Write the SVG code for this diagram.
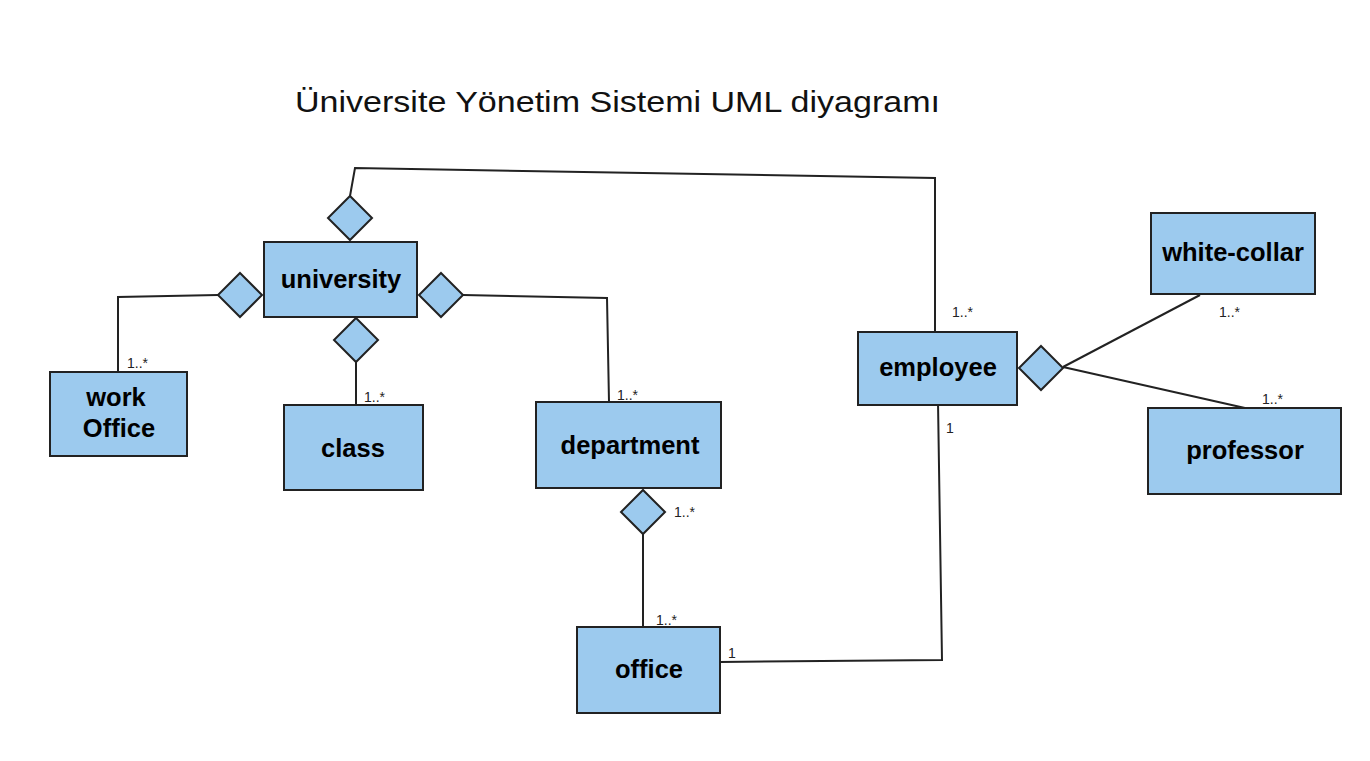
<svg xmlns="http://www.w3.org/2000/svg" width="1370" height="761" viewBox="0 0 1370 761">
<style>
.box{fill:#9ccaee;stroke:#222;stroke-width:2}
.dia{fill:#9ccaee;stroke:#222;stroke-width:2}
.lbl{font-family:"Liberation Sans",Arial,sans-serif;font-weight:bold;font-size:25.5px;fill:#000;text-anchor:middle}
.mult{font-family:"Liberation Sans",Arial,sans-serif;font-size:14px;fill:#222}
.conn{fill:none;stroke:#222;stroke-width:2}
.title{font-family:"Liberation Sans",Arial,sans-serif;font-size:30px;fill:#111}
</style>
<rect width="1370" height="761" fill="#fff"/>
<text class="title" x="295" y="112" textLength="645" lengthAdjust="spacingAndGlyphs">Üniversite Yönetim Sistemi UML diyagramı</text>
<g id="connectors">
<polyline class="conn" points="350,196 355,168 935,178 935,332"/>
<polyline class="conn" points="218,295 118,297 118,372"/>
<polyline class="conn" points="463,295 607,298 609,402"/>
<line class="conn" x1="356" y1="362" x2="356" y2="405"/>
<line class="conn" x1="643" y1="534" x2="643" y2="627"/>
<polyline class="conn" points="720,662 942,660 938,402"/>
<line class="conn" x1="1063" y1="367" x2="1200" y2="295"/>
<line class="conn" x1="1063" y1="367" x2="1245" y2="408"/>
</g>
<g id="multiplicities">
<text class="mult" x="127" y="368">1..*</text>
<text class="mult" x="364" y="402">1..*</text>
<text class="mult" x="617" y="400">1..*</text>
<text class="mult" x="674" y="517">1..*</text>
<text class="mult" x="656" y="625">1..*</text>
<text class="mult" x="952" y="317">1..*</text>
<text class="mult" x="1219" y="317">1..*</text>
<text class="mult" x="1262" y="404">1..*</text>
<text class="mult" x="946" y="433">1</text>
<text class="mult" x="728" y="658">1</text>
</g>
<g id="university">
<rect class="box" x="264" y="242" width="153" height="75"/>
<text class="lbl" x="341" y="288">university</text>
</g>
<g id="dia-top"><polygon class="dia" points="350,196 372,218 350,240 328,218"/></g>
<g id="dia-left"><polygon class="dia" points="240,273 262,295 240,317 218,295"/></g>
<g id="dia-right"><polygon class="dia" points="441,273 463,295 441,317 419,295"/></g>
<g id="dia-bottom"><polygon class="dia" points="356,318 378,340 356,362 334,340"/></g>
<g id="dia-dept"><polygon class="dia" points="643,490 665,512 643,534 621,512"/></g>
<g id="dia-emp"><polygon class="dia" points="1041,346 1063,368 1041,390 1019,368"/></g>
<g id="workOffice">
<rect class="box" x="50" y="372" width="137" height="84"/>
<text class="lbl" x="116" y="406">work</text>
<text class="lbl" x="119" y="437">Office</text>
</g>
<g id="class">
<rect class="box" x="284" y="405" width="139" height="85"/>
<text class="lbl" x="353" y="457">class</text>
</g>
<g id="department">
<rect class="box" x="536" y="402" width="185" height="86"/>
<text class="lbl" x="630" y="454">department</text>
</g>
<g id="office">
<rect class="box" x="577" y="627" width="143" height="86"/>
<text class="lbl" x="649" y="678">office</text>
</g>
<g id="employee">
<rect class="box" x="858" y="332" width="159" height="73"/>
<text class="lbl" x="938" y="376">employee</text>
</g>
<g id="white-collar">
<rect class="box" x="1151" y="213" width="164" height="81"/>
<text class="lbl" x="1233" y="261">white-collar</text>
</g>
<g id="professor">
<rect class="box" x="1148" y="408" width="193" height="86"/>
<text class="lbl" x="1245" y="459">professor</text>
</g>
</svg>
